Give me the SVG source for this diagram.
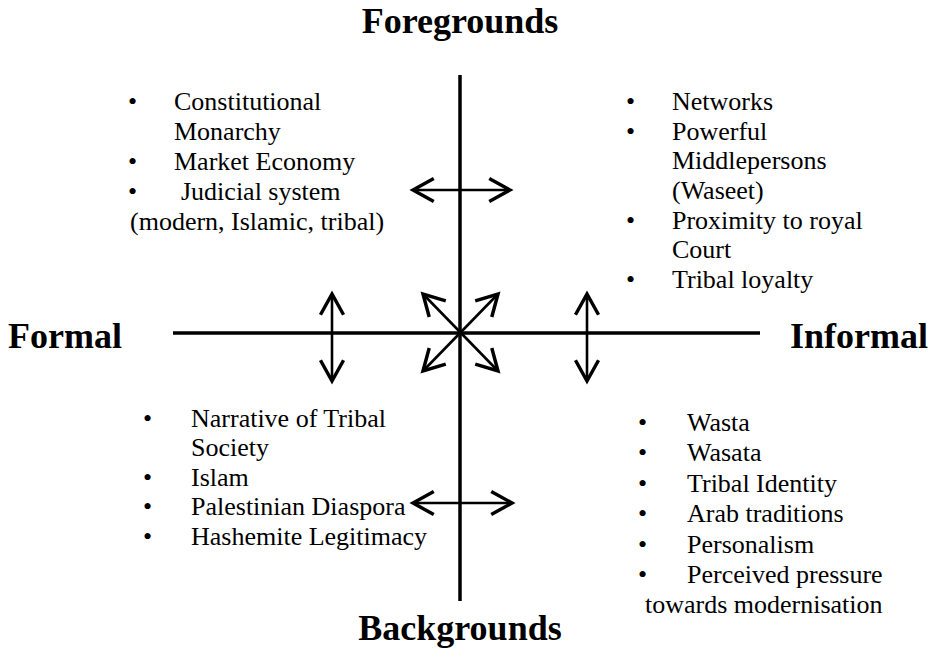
<svg xmlns="http://www.w3.org/2000/svg" width="930" height="665" viewBox="0 0 930 665">
  <style>
    .title { font-family: "Liberation Serif", "Times New Roman", serif; font-weight: bold; font-size: 36px; fill: #000; }
    .item { font-family: "Liberation Serif", "Times New Roman", serif; font-size: 26px; fill: #000; }
    .axis { stroke: #000; stroke-width: 3.5; fill: none; }
    .arrow { stroke: #000; stroke-width: 2.6; fill: none; marker-start: url(#head); marker-end: url(#head); }
  </style>
  <defs>
    <!-- open V arrowhead, reversed at the start so each line is double-headed -->
    <marker id="head" markerUnits="userSpaceOnUse" markerWidth="30" markerHeight="30" viewBox="-22 -13 26 26" refX="0" refY="0" orient="auto-start-reverse">
      <path d="M -18 -10 L 0 0 L -18 10" fill="none" stroke="#000" stroke-width="3"/>
    </marker>
  </defs>

  <rect width="930" height="665" fill="#fff"/>

  <!-- axis labels -->
  <g id="foregrounds"><text class="title" x="460" y="33" text-anchor="middle">Foregrounds</text></g>
  <g id="backgrounds"><text class="title" x="460" y="640" text-anchor="middle">Backgrounds</text></g>
  <g id="formal"><text class="title" x="8" y="348">Formal</text></g>
  <g id="informal"><text class="title" x="928" y="348" text-anchor="end">Informal</text></g>

  <!-- quadrant: formal foregrounds -->
  <g id="formal-foreground" class="item">
    <text x="128" y="110">•</text><text x="174" y="110">Constitutional</text>
    <text x="174" y="140">Monarchy</text>
    <text x="128" y="170">•</text><text x="174" y="170">Market Economy</text>
    <text x="128" y="200">•</text><text x="181" y="200">Judicial system</text>
    <text x="130" y="230">(modern, Islamic, tribal)</text>
  </g>

  <!-- quadrant: informal foregrounds -->
  <g id="informal-foreground" class="item">
    <text x="626" y="110">•</text><text x="672" y="110">Networks</text>
    <text x="626" y="140">•</text><text x="672" y="140">Powerful</text>
    <text x="672" y="169">Middlepersons</text>
    <text x="672" y="199">(Waseet)</text>
    <text x="626" y="229">•</text><text x="672" y="229">Proximity to royal</text>
    <text x="672" y="258">Court</text>
    <text x="626" y="288">•</text><text x="672" y="288">Tribal loyalty</text>
  </g>

  <!-- quadrant: formal backgrounds -->
  <g id="formal-background" class="item">
    <text x="143" y="427">•</text><text x="191" y="427">Narrative of Tribal</text>
    <text x="191" y="456">Society</text>
    <text x="143" y="486">•</text><text x="191" y="486">Islam</text>
    <text x="143" y="515">•</text><text x="191" y="515">Palestinian Diaspora</text>
    <text x="143" y="545">•</text><text x="191" y="545">Hashemite Legitimacy</text>
  </g>

  <!-- quadrant: informal backgrounds -->
  <g id="informal-background" class="item">
    <text x="638" y="431">•</text><text x="687" y="431">Wasta</text>
    <text x="638" y="461">•</text><text x="687" y="461">Wasata</text>
    <text x="638" y="492">•</text><text x="687" y="492">Tribal Identity</text>
    <text x="638" y="522">•</text><text x="687" y="522">Arab traditions</text>
    <text x="638" y="553">•</text><text x="687" y="553">Personalism</text>
    <text x="638" y="583">•</text><text x="687" y="583">Perceived pressure</text>
    <text x="645" y="613">towards modernisation</text>
  </g>

  <!-- axes and double-headed arrows -->
  <g id="connectors">
    <line class="axis" x1="460" y1="75" x2="460" y2="601"/>
    <line class="axis" x1="173" y1="333" x2="760" y2="333"/>
    <line class="arrow" x1="413" y1="190" x2="510" y2="190"/>
    <line class="arrow" x1="413" y1="503" x2="512" y2="503"/>
    <line class="arrow" x1="332" y1="294" x2="332" y2="381"/>
    <line class="arrow" x1="587" y1="294" x2="587" y2="381"/>
    <line class="arrow" x1="423" y1="294" x2="498" y2="371"/>
    <line class="arrow" x1="498" y1="294" x2="423" y2="371"/>
  </g>
</svg>
